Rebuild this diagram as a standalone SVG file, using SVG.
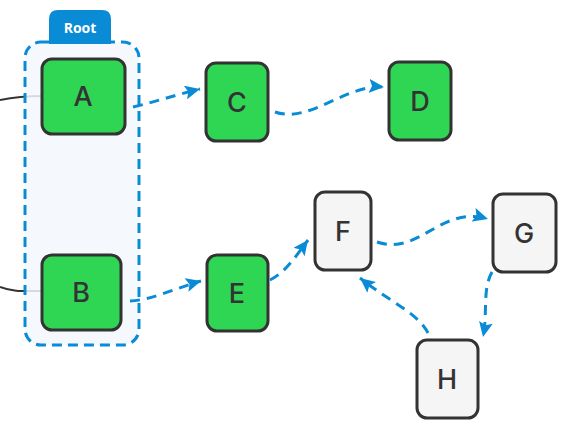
<svg xmlns="http://www.w3.org/2000/svg" width="567" height="429" viewBox="0 0 567 429">
<style>
.node rect{stroke:#333;stroke-width:3}
.g rect{fill:#2ed653}
.w rect{fill:#f5f5f5}
.node text{font-family:Inter,"Open Sans","Liberation Sans",sans-serif;font-size:27px;font-weight:500;fill:#333;text-anchor:middle;dominant-baseline:central}
.dash{fill:none;stroke:#0a8bd6;stroke-width:3;stroke-dasharray:10 7;marker-end:url(#ah)}
.solid{fill:none;stroke:#333;stroke-width:2}
</style>
<defs>
<marker id="ah" markerUnits="userSpaceOnUse" markerWidth="16" markerHeight="14" refX="15" refY="7" orient="auto">
<path d="M0,0 L15,7 L0,14 L3,7 z" fill="#0a8bd6"/>
</marker>
</defs>
<rect width="567" height="429" fill="#fff"/>
<g id="connectors-solid">
<path class="solid" d="M0,100 C15,97 28,96 42,96"/>
<path class="solid" d="M0,287 C12,292 25,291 42,291"/>
</g>
<g id="root">
<rect x="25" y="42" width="114" height="303" rx="16" fill="#f3f8fd" fill-opacity="0.85" stroke="#0a8bd6" stroke-width="3" stroke-dasharray="10 6"/>
<path d="M49,44 L49,19 Q49,10 58,10 L102,10 Q111,10 111,19 L111,44 z" fill="#0a8bd6"/>
<text x="80" y="27" font-family="Open Sans, Liberation Sans, sans-serif" font-size="14" font-weight="700" fill="#fff" text-anchor="middle" dominant-baseline="central">Root</text>
</g>
<g id="A" class="node g"><rect x="42" y="59" width="83" height="75" rx="10"/><text x="83" y="96">A</text></g>
<g id="B" class="node g"><rect x="42" y="255" width="79" height="75" rx="10"/><text x="81" y="292">B</text></g>
<g id="C" class="node g"><rect x="206" y="63" width="62" height="78" rx="10"/><text x="237" y="102">C</text></g>
<g id="D" class="node g"><rect x="389" y="62" width="62" height="78" rx="10"/><text x="420" y="101">D</text></g>
<g id="E" class="node g"><rect x="207" y="255" width="61" height="76" rx="10"/><text x="237" y="293">E</text></g>
<g id="F" class="node w"><rect x="315" y="192" width="56" height="78" rx="10"/><text x="343" y="231">F</text></g>
<g id="G" class="node w"><rect x="493" y="194" width="63" height="78" rx="10"/><text x="524" y="233">G</text></g>
<g id="H" class="node w"><rect x="417" y="340" width="61" height="78" rx="10"/><text x="447" y="379">H</text></g>
<g id="connectors">
<path class="dash" d="M133,107 C155,102 175,95 200,89"/>
<path class="dash" d="M275,112 C310,124 345,84 384,87"/>
<path class="dash" d="M130,301 C152,300 176,288 201,281"/>
<path class="dash" d="M270,280 C286,272 296,256 308,240"/>
<path class="dash" d="M377,242 C420,256 440,205 488,219"/>
<path class="dash" d="M492,272 C482,290 488,312 483,337"/>
<path class="dash" d="M428,333 C418,313 390,302 360,278"/>
</g>
</svg>
